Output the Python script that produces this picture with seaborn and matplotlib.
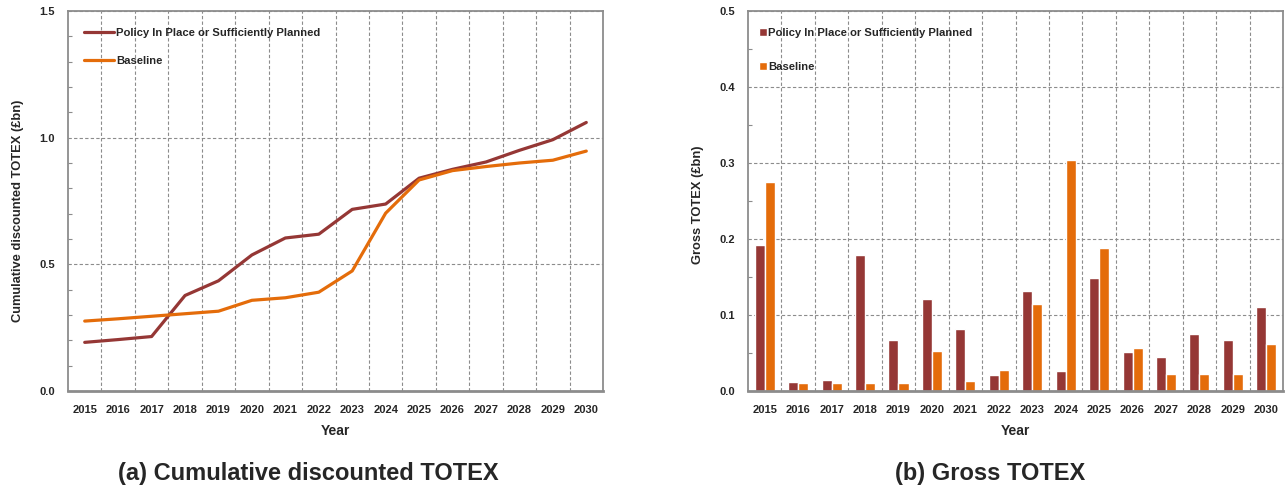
import numpy as np
import pandas as pd
import matplotlib
matplotlib.use("Agg")
import matplotlib.pyplot as plt
from matplotlib.ticker import FixedLocator, MultipleLocator, FormatStrFormatter
import seaborn as sns

# ---- data -------------------------------------------------------------
years = [str(y) for y in range(2015, 2031)]
scenarios = ["Policy In Place or Sufficiently Planned", "Baseline"]

cum_policy = [0.192, 0.203, 0.215, 0.377, 0.435, 0.537, 0.604, 0.619,
              0.717, 0.738, 0.840, 0.875, 0.904, 0.950, 0.992, 1.060]
cum_baseline = [0.276, 0.285, 0.295, 0.305, 0.315, 0.358, 0.368, 0.390,
                0.474, 0.702, 0.833, 0.870, 0.886, 0.900, 0.911, 0.947]

gross_policy = [0.192, 0.012, 0.015, 0.179, 0.067, 0.121, 0.082, 0.021,
                0.131, 0.026, 0.149, 0.051, 0.045, 0.075, 0.067, 0.110]
gross_baseline = [0.275, 0.011, 0.011, 0.011, 0.011, 0.053, 0.013, 0.028,
                  0.114, 0.304, 0.188, 0.057, 0.022, 0.022, 0.022, 0.062]

colors = {scenarios[0]: "#953735", scenarios[1]: "#E46C0A"}

cum_df = pd.DataFrame({
    "Year": years * 2,
    "Scenario": [scenarios[0]] * len(years) + [scenarios[1]] * len(years),
    "Value": cum_policy + cum_baseline,
})
gross_df = pd.DataFrame({
    "Year": years * 2,
    "Scenario": [scenarios[0]] * len(years) + [scenarios[1]] * len(years),
    "Value": gross_policy + gross_baseline,
})

# ---- style ------------------------------------------------------------
sns.set_theme(style="white")
plt.rcParams["font.family"] = ["Liberation Sans", "DejaVu Sans"]
plt.rcParams["font.weight"] = "bold"

GRID = dict(color="#8c8c8c", linestyle=(0, (3, 2)), linewidth=0.8)
SPINE = "#8c8c8c"
TICK_FS = 8.0
LABEL_FS = 9.3
LEG_FS = 8.1

fig = plt.figure(figsize=(12.87, 4.86), dpi=100)
ax1 = fig.add_axes([68 / 1287, 95 / 486, 535 / 1287, 380 / 486])
ax2 = fig.add_axes([748 / 1287, 95 / 486, 535 / 1287, 380 / 486])


def style_axes(ax, ymax, ymajor, yminor, ylabel, ylabel_y):
    ax.set_xlim(-0.5, len(years) - 0.5)
    ax.set_ylim(0, ymax)
    ax.yaxis.set_major_locator(MultipleLocator(ymajor))
    ax.yaxis.set_minor_locator(MultipleLocator(yminor))
    ax.yaxis.set_major_formatter(FormatStrFormatter("%.1f"))
    ax.xaxis.set_minor_locator(FixedLocator(np.arange(0.5, len(years) - 1, 1)))
    ax.set_axisbelow(True)
    ax.grid(False)
    ax.grid(which="major", axis="y", **GRID)
    ax.grid(which="minor", axis="x", **GRID)
    for side in ["left", "right", "top"]:
        ax.spines[side].set_color(SPINE)
        ax.spines[side].set_linewidth(1.3)
        ax.spines[side].set_visible(True)
    ax.spines["bottom"].set_color(SPINE)
    ax.spines["bottom"].set_linewidth(2.0)
    ax.tick_params(axis="x", which="both", length=0, pad=10, labelsize=TICK_FS)
    ax.tick_params(axis="y", which="major", length=0, pad=9.5, labelsize=TICK_FS)
    ax.tick_params(axis="y", which="minor", length=3, direction="in",
                   color=SPINE, width=0.8, left=True)
    for lab in ax.get_xticklabels() + ax.get_yticklabels():
        lab.set_fontweight("bold")
    ax.set_xlabel("Year", fontsize=LABEL_FS + 0.7, fontweight="bold")
    ax.xaxis.set_label_coords(0.5, -0.088)
    ax.set_ylabel(ylabel, fontsize=LABEL_FS, fontweight="bold")
    ax.yaxis.set_label_coords(-0.083, ylabel_y)


# ---- (a) cumulative discounted TOTEX ----------------------------------
sns.lineplot(data=cum_df, x="Year", y="Value", hue="Scenario",
             palette=colors, linewidth=2.3, ax=ax1, sort=False)
style_axes(ax1, 1.5, 0.5, 0.1, "Cumulative discounted TOTEX (£bn)", 0.475)
leg1 = ax1.legend(loc="upper left", bbox_to_anchor=(0.03, 0.955),
                  frameon=False, fontsize=LEG_FS, handlelength=2.7,
                  handletextpad=0.15, labelspacing=1.57, borderpad=0,
                  borderaxespad=0)
for t in leg1.get_texts():
    t.set_fontweight("bold")
for h in leg1.get_lines():
    h.set_linewidth(2.3)

# ---- (b) gross TOTEX --------------------------------------------------
sns.barplot(data=gross_df, x="Year", y="Value", hue="Scenario",
            palette=colors, width=0.6, saturation=1, gap=0, ax=ax2)
style_axes(ax2, 0.5, 0.1, 0.05, "Gross TOTEX (£bn)", 0.49)
leg2 = ax2.legend(loc="upper left", bbox_to_anchor=(0.02, 0.955),
                  frameon=False, fontsize=LEG_FS, handlelength=0.72,
                  handleheight=0.72, handletextpad=0.15, labelspacing=2.13,
                  borderpad=0, borderaxespad=0)
for t in leg2.get_texts():
    t.set_fontweight("bold")

# ---- panel captions ---------------------------------------------------
fig.text(308 / 1287, 1 - 473 / 486, "(a) Cumulative discounted TOTEX",
         ha="center", va="center", fontsize=17, fontweight="bold")
fig.text(990 / 1287, 1 - 473 / 486, "(b) Gross TOTEX",
         ha="center", va="center", fontsize=17, fontweight="bold")

fig.savefig("out.png", dpi=100)
